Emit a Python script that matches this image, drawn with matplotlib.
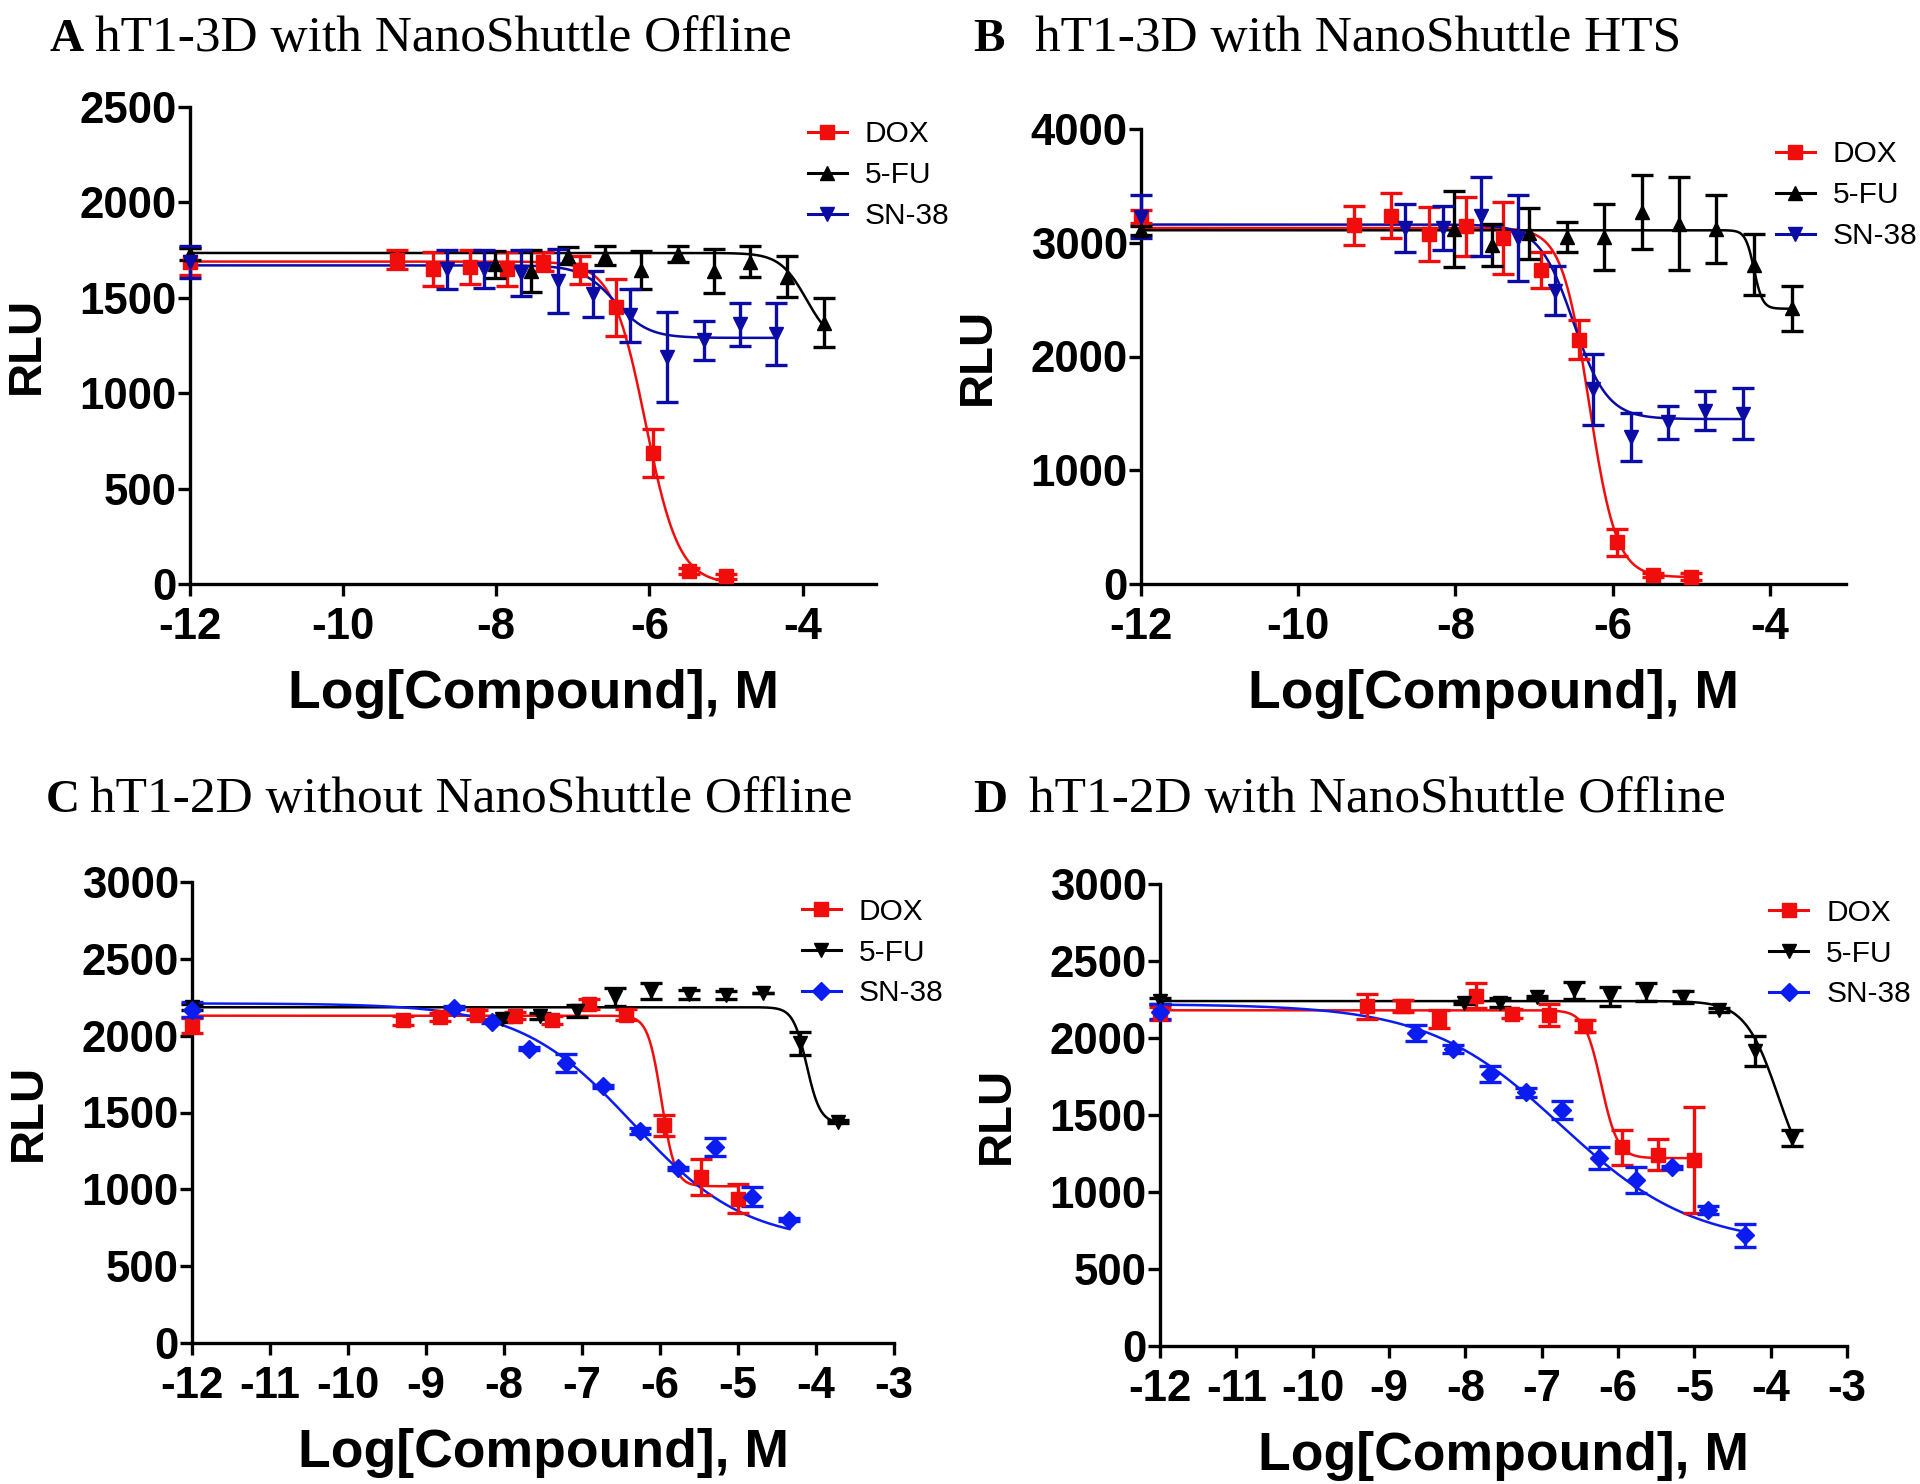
import numpy as np
import matplotlib
matplotlib.use("Agg")
import matplotlib.pyplot as plt
from matplotlib.lines import Line2D

plt.rcParams['axes.unicode_minus'] = False

# Konsentrasi (log M) untuk masing-masing senyawa, titik -12 = kontrol
dox_x = [-12, -9.29, -8.82, -8.34, -7.86, -7.39, -6.91, -6.43, -5.95, -5.48, -5.00]
fu_x = [-12, -8.02, -7.54, -7.06, -6.58, -6.11, -5.63, -5.15, -4.68, -4.20, -3.72]
sn_x = [-12, -8.64, -8.16, -7.68, -7.20, -6.73, -6.25, -5.77, -5.29, -4.82, -4.34]

# Panel A: hT1-3D with NanoShuttle Offline
a_dox_y = [1690, 1700, 1650, 1660, 1650, 1690, 1645, 1450, 685, 70, 40]
a_dox_e = [70, 50, 90, 90, 90, 50, 75, 150, 125, 15, 15]
a_fu_y = [1730, 1675, 1640, 1720, 1720, 1645, 1730, 1640, 1690, 1610, 1370]
a_fu_e = [30, 70, 110, 45, 50, 100, 40, 115, 80, 107, 130]
a_sn_y = [1688, 1650, 1650, 1632, 1586, 1520, 1408, 1190, 1278, 1362, 1310]
a_sn_e = [84, 103, 100, 120, 168, 121, 140, 238, 103, 112, 163]

# Panel B: hT1-3D with NanoShuttle HTS
b_dox_y = [3230, 3153, 3239, 3075, 3145, 3043, 2761, 2149, 368, 78, 63]
b_dox_e = [60, 172, 196, 235, 259, 314, 157, 173, 118, 20, 30]
b_fu_y = [3110, 3121, 2980, 3082, 3051, 3051, 3271, 3169, 3122, 2808, 2423]
b_fu_e = [40, 330, 188, 227, 133, 290, 322, 408, 298, 267, 196]
b_sn_y = [3230, 3130, 3129, 3231, 3043, 2580, 1710, 1294, 1420, 1522, 1498]
b_sn_e = [190, 212, 196, 345, 376, 212, 314, 212, 149, 172, 227]

# Panel C: hT1-2D without NanoShuttle Offline
c_dox_y = [2066, 2101, 2120, 2136, 2131, 2101, 2206, 2136, 1416, 1080, 940]
c_dox_e = [50, 30, 25, 30, 25, 25, 30, 35, 70, 115, 95]
c_fu_y = [2185, 2110, 2130, 2160, 2250, 2290, 2270, 2265, 2275, 1950, 1440]
c_fu_e = [20, 20, 20, 40, 60, 50, 30, 25, 0, 75, 10]
c_sn_y = [2170, 2182, 2090, 1915, 1822, 1672, 1381, 1138, 1277, 952, 801]
c_sn_e = [50, 10, 10, 10, 60, 10, 20, 10, 60, 60, 10]

# Panel D: hT1-2D with NanoShuttle Offline
d_dox_y = [2160, 2206, 2206, 2124, 2275, 2159, 2148, 2078, 1289, 1242, 1207]
d_dox_e = [40, 80, 40, 60, 80, 30, 70, 40, 115, 100, 345]
d_fu_y = [2240, 2229, 2229, 2264, 2310, 2270, 2300, 2265, 2182, 1915, 1350]
d_fu_e = [20, 10, 30, 10, 55, 60, 60, 40, 10, 100, 50]
d_sn_y = [2171, 2032, 1927, 1765, 1648, 1532, 1219, 1080, 1161, 882, 720]
d_sn_e = [50, 50, 25, 50, 30, 60, 70, 85, 10, 25, 75]

# Parameter kurva dosis-respons (top, bottom, logIC50, hill)
a_fit = {'DOX': (1690, 0, -6.05, 2.0), '5-FU': (1735, 1250, -3.95, 2.5), 'SN-38': (1670, 1290, -6.45, 2.0)}
b_fit = {'DOX': (3130, 60, -6.30, 2.5), '5-FU': (3110, 2420, -4.20, 8.0), 'SN-38': (3160, 1450, -6.50, 2.0)}
c_fit = {'DOX': (2130, 1020, -5.98, 5.0), '5-FU': (2185, 1430, -4.12, 5.0), 'SN-38': (2210, 650, -6.35, 0.6)}
d_fit = {'DOX': (2180, 1220, -6.22, 4.0), '5-FU': (2240, 1000, -3.90, 2.0), 'SN-38': (2220, 650, -6.75, 0.5)}

titles = ["hT1-3D with NanoShuttle Offline", "hT1-3D with NanoShuttle HTS",
          "hT1-2D without NanoShuttle Offline", "hT1-2D with NanoShuttle Offline"]
letters = ["A", "B", "C", "D"]

RED = '#f20d0d'
NAVY = '#0b0ba6'
BLUE = '#0a1cf0'

SANS = 'Liberation Sans'
SERIF = 'Liberation Serif'


def logistic(x, top, bottom, logic50, hill):
    return bottom + (top - bottom) / (1 + 10 ** (hill * (x - logic50)))


fig = plt.figure(figsize=(19.2, 14.84), dpi=100)

W, H = 1920, 1484
# posisi axes dalam piksel: kiri, atas, kanan, bawah
boxes = [(190, 107, 876, 584), (1141, 129, 1846, 584),
         (192, 882, 894, 1343), (1160, 884, 1847, 1346)]

panels = [
    (a_dox_y, a_dox_e, a_fu_y, a_fu_e, a_sn_y, a_sn_e, a_fit, 2500, (-12, -3.04), [-12, -10, -8, -6, -4], 500, '^', 'v', NAVY),
    (b_dox_y, b_dox_e, b_fu_y, b_fu_e, b_sn_y, b_sn_e, b_fit, 4000, (-12, -3.03), [-12, -10, -8, -6, -4], 1000, '^', 'v', NAVY),
    (c_dox_y, c_dox_e, c_fu_y, c_fu_e, c_sn_y, c_sn_e, c_fit, 3000, (-12, -3), list(range(-12, -2)), 500, 'v', 'D', BLUE),
    (d_dox_y, d_dox_e, d_fu_y, d_fu_e, d_sn_y, d_sn_e, d_fit, 3000, (-12, -3), list(range(-12, -2)), 500, 'v', 'D', BLUE),
]
legend_pos = [(0.901, 0.972), (0.9007, 0.975), (0.869, 0.966), (0.887, 0.968)]

for i, (box, p) in enumerate(zip(boxes, panels)):
    l, t, r, b = box
    ax = fig.add_axes([l / W, 1 - b / H, (r - l) / W, (b - t) / H])
    dy, de, fy, fe, sy, se, fit, ymax, xlim, xt, ystep, fu_m, sn_m, sn_c = p

    series = [
        ('DOX', dox_x, dy, de, 's', RED, 10),
        ('5-FU', fu_x, fy, fe, fu_m, 'black', 10),
        ('SN-38', sn_x, sy, se, sn_m, sn_c, 9 if sn_m == 'D' else 10),
    ]
    handles = []
    for name, xs, ys, es, mk, col, ms in series:
        xx = np.linspace(-12, max(xs), 500)
        ax.plot(xx, logistic(xx, *fit[name]), color=col, lw=1.8, zorder=2)
        ax.errorbar(xs, ys, yerr=es, fmt=mk, color=col, ms=ms, elinewidth=2.4,
                    capsize=8, capthick=2.4, zorder=3, clip_on=False)
        handles.append(Line2D([0], [0], color=col, marker=mk, ms=ms, lw=2.2, label=name))

    ax.set_xlim(*xlim)
    ax.set_ylim(0, ymax)
    ax.set_xticks(xt)
    ax.set_yticks(np.arange(0, ymax + 1, ystep))
    for s in ['top', 'right']:
        ax.spines[s].set_visible(False)
    for s in ['left', 'bottom']:
        ax.spines[s].set_linewidth(2.4)
    ax.tick_params(axis='both', length=8.5, width=2.4)
    ax.tick_params(axis='x', pad=8)
    ax.tick_params(axis='y', pad=1)
    for lab in ax.get_xticklabels() + ax.get_yticklabels():
        lab.set_fontfamily(SANS)
        lab.set_fontweight('bold')
        lab.set_fontsize(31.5)

    ax.set_xlabel("Log[Compound], M", fontfamily=SANS, fontweight='bold', fontsize=38.5, labelpad=15)
    ax.set_ylabel("RLU", fontfamily=SANS, fontweight='bold', fontsize=34, labelpad=22)

    ax.legend(handles=handles, loc='upper left', bbox_to_anchor=legend_pos[i],
              frameon=False, borderpad=0, borderaxespad=0, handlelength=1.3,
              handletextpad=0.6, labelspacing=0.43,
              prop={'family': SANS, 'size': 21.5})

# Judul panel
title_pos = [(49, 95, 51), (973, 1035, 51), (46, 90, 812), (973, 1029, 812)]
for (lx, tx, by), letter, title in zip(title_pos, letters, titles):
    fig.text(lx / W, 1 - by / H, letter, fontfamily=SERIF, fontweight='bold', fontsize=34, va='baseline')
    fig.text(tx / W, 1 - by / H, title, fontfamily=SERIF, fontsize=37, va='baseline')

fig.savefig("out.png", dpi=100)
